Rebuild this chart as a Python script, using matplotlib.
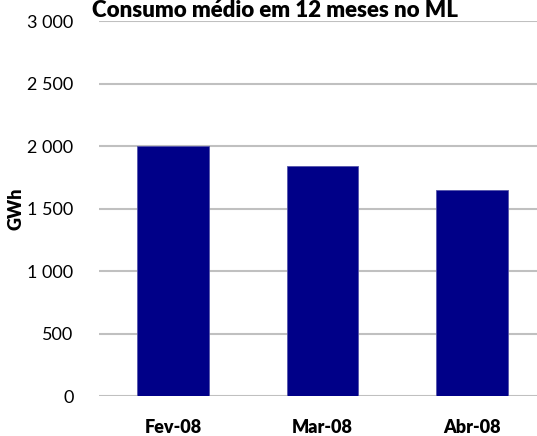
import matplotlib
matplotlib.use("Agg")
import matplotlib.pyplot as plt
from matplotlib.ticker import FuncFormatter

categories = ["Fev-08", "Mar-08", "Abr-08"]
values = [2000, 1840, 1650]
yticks = [0, 500, 1000, 1500, 2000, 2500, 3000]
title = "Consumo médio em 12 meses no ML"
ylabel = "GWh"

plt.rcParams['font.family'] = ['Lato', 'DejaVu Sans']

fig = plt.figure(figsize=(5.37, 4.36), dpi=100)
ax_w = 1 - 98.5/537
ax = fig.add_axes([98.5/537, 39.7/436, ax_w, (396.3-21.3)/436])

x = list(range(len(categories)))
ax.bar(x, values, width=0.48, color="#000088", edgecolor="#5555AA", linewidth=0.6, zorder=3)
ax.set_xlim(-0.5, 2.936 - 0.5)
ax.set_ylim(0, 3000)
ax.set_yticks(yticks)
ax.yaxis.set_major_formatter(FuncFormatter(lambda v, p: f"{int(v):,}".replace(",", " ")))
ax.grid(axis="y", color="#C0C0C0", linewidth=1.5, zorder=0)
for s in ax.spines.values():
    s.set_visible(False)
ax.tick_params(axis="both", length=0, labelsize=13)
ax.tick_params(axis="y", pad=18)
ax.set_xticks(x)
ax.set_xticklabels(categories, fontweight="heavy")
ax.tick_params(axis="x", pad=16)
ax.set_ylabel(ylabel, fontweight="heavy", fontsize=13)
ax.yaxis.set_label_coords((25 - 98.5) / 438.5, 0.5)
fig.text(275/537, 0.999, title, ha="center", va="top", fontsize=16, fontweight="heavy")
fig.savefig("out.png", dpi=100)
